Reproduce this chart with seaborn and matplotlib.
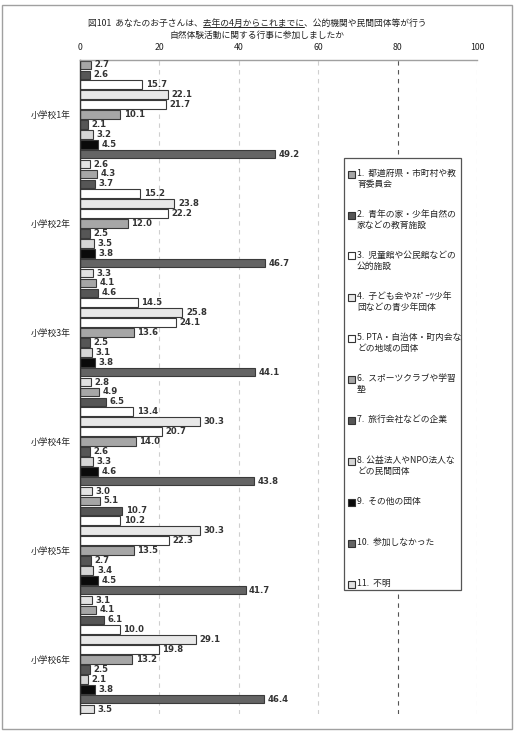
import pandas as pd
import seaborn as sns
import matplotlib.pyplot as plt
from matplotlib.patches import Rectangle
from matplotlib.lines import Line2D

# data
grades = ["小学校1年", "小学校2年", "小学校3年", "小学校4年", "小学校5年", "小学校6年"]
categories = [
    "1.  都道府県・市町村や教\n育委員会",
    "2.  青年の家・少年自然の\n家などの教育施設",
    "3.  児童館や公民館などの\n公的施設",
    "4.  子ども会やｽﾎﾟｰﾂ少年\n団などの青少年団体",
    "5. PTA・自治体・町内会な\nどの地域の団体",
    "6.  スポーツクラブや学習\n塾",
    "7.  旅行会社などの企業",
    "8. 公益法人やNPO法人な\nどの民間団体",
    "9.  その他の団体",
    "10.  参加しなかった",
    "11.  不明",
]
g1 = [2.7, 2.6, 15.7, 22.1, 21.7, 10.1, 2.1, 3.2, 4.5, 49.2, 2.6]
g2 = [4.3, 3.7, 15.2, 23.8, 22.2, 12.0, 2.5, 3.5, 3.8, 46.7, 3.3]
g3 = [4.1, 4.6, 14.5, 25.8, 24.1, 13.6, 2.5, 3.1, 3.8, 44.1, 2.8]
g4 = [4.9, 6.5, 13.4, 30.3, 20.7, 14.0, 2.6, 3.3, 4.6, 43.8, 3.0]
g5 = [5.1, 10.7, 10.2, 30.3, 22.3, 13.5, 2.7, 3.4, 4.5, 41.7, 3.1]
g6 = [4.1, 6.1, 10.0, 29.1, 19.8, 13.2, 2.5, 2.1, 3.8, 46.4, 3.5]
xticks = [0, 20, 40, 60, 80, 100]

colors = ["#a6a6a6", "#565656", "#ffffff", "#e8e8e8", "#ffffff", "#a6a6a6",
          "#565656", "#d6d6d6", "#0a0a0a", "#646464", "#e2e2e2"]

W, H = 514, 736


def fx(x):
    return x / W


def fy(y):
    return 1 - y / H


rows = []
for grade, vals in zip(grades, [g1, g2, g3, g4, g5, g6]):
    for cat, v in zip(categories, vals):
        rows.append({"grade": grade, "cat": cat, "value": v})
df = pd.DataFrame(rows)

sns.set_style("white")
plt.rcParams["font.family"] = ["Noto Sans CJK JP", "DejaVu Sans"]
fs = 6.3
txt = "#222222"

fig = plt.figure(figsize=(W / 100, H / 100), dpi=100)
ax = fig.add_axes([fx(80), fy(714), (477 - 80) / W, (714 - 60) / H])

sns.barplot(data=df, x="value", y="grade", hue="cat", hue_order=categories,
            order=grades, palette=colors, orient="h", width=1.0, gap=0.12,
            edgecolor="#3a3a3a", linewidth=0.8, legend=False, ax=ax)

# value labels next to each bar
for cont in ax.containers:
    ax.bar_label(cont, fmt="%.1f", padding=2.5, fontsize=6.1,
                 fontweight="bold", family="DejaVu Sans", color="#333333")

ax.set_xlim(0, 100)
ax.set_ylim(5.5, -0.5)
ax.set_xticks(xticks)
ax.xaxis.tick_top()
ax.tick_params(axis="x", length=0, pad=6, labelsize=fs, labelcolor=txt)
ax.tick_params(axis="y", length=0, pad=7, labelsize=fs, labelcolor=txt)
ax.set_xlabel("")
ax.set_ylabel("")
ax.set_axisbelow(True)
ax.grid(axis="x", ls=(0, (4, 4)), color="#cfcfcf", lw=0.8)
ax.xaxis.get_gridlines()[4].set_color("#555555")
for s in ["right", "bottom"]:
    ax.spines[s].set_visible(False)
ax.spines["left"].set_color("#333333")
ax.spines["left"].set_linewidth(1.0)
ax.spines["top"].set_color("#a0a0a0")
ax.spines["top"].set_linewidth(1.0)

# legend box drawn by hand so that handles sit on the first text line
fig.patches.append(Rectangle((fx(344), fy(590)), (461 - 344) / W, (590 - 158) / H,
                             transform=fig.transFigure, facecolor="white",
                             edgecolor="#555555", lw=0.9, zorder=5))
for i, (cat, c) in enumerate(zip(categories, colors)):
    yc = 174 + 41 * i
    fig.patches.append(Rectangle((fx(348), fy(yc + 3.5)), 6.5 / W, 7 / H,
                                 transform=fig.transFigure, facecolor=c,
                                 edgecolor="#333333", lw=0.8, zorder=6))
    fig.text(fx(357), fy(yc - 5.5), cat, fontsize=fs, color=txt, va="top",
             ha="left", linespacing=1.3, zorder=7)

# title with underlined part
pre = "図101  あなたのお子さんは、"
und = "去年の4月からこれまでに"
post = "、公的機関や民間団体等が行う"
t1 = fig.text(fx(257), fy(23), pre + und + post, fontsize=fs, color=txt,
              ha="center", va="center")
fig.text(fx(257), fy(35), "自然体験活動に関する行事に参加しましたか", fontsize=fs,
         color=txt, ha="center", va="center")
rend = fig.canvas.get_renderer()
bb = t1.get_window_extent(rend)
tmp = fig.text(0, 0, pre, fontsize=fs)
wpre = tmp.get_window_extent(rend).width
tmp.set_text(pre + und)
wund = tmp.get_window_extent(rend).width
tmp.remove()
yline = bb.y0 + 0.5
fig.add_artist(Line2D([bb.x0 + wpre, bb.x0 + wund], [yline, yline],
                      transform=None, color=txt, lw=0.7))

# outer frame
fig.patches.append(Rectangle((fx(2), fy(729)), 510 / W, 724 / H,
                             transform=fig.transFigure, fill=False,
                             edgecolor="#a0a0a0", lw=1.0))

fig.savefig("out.png", dpi=100)
